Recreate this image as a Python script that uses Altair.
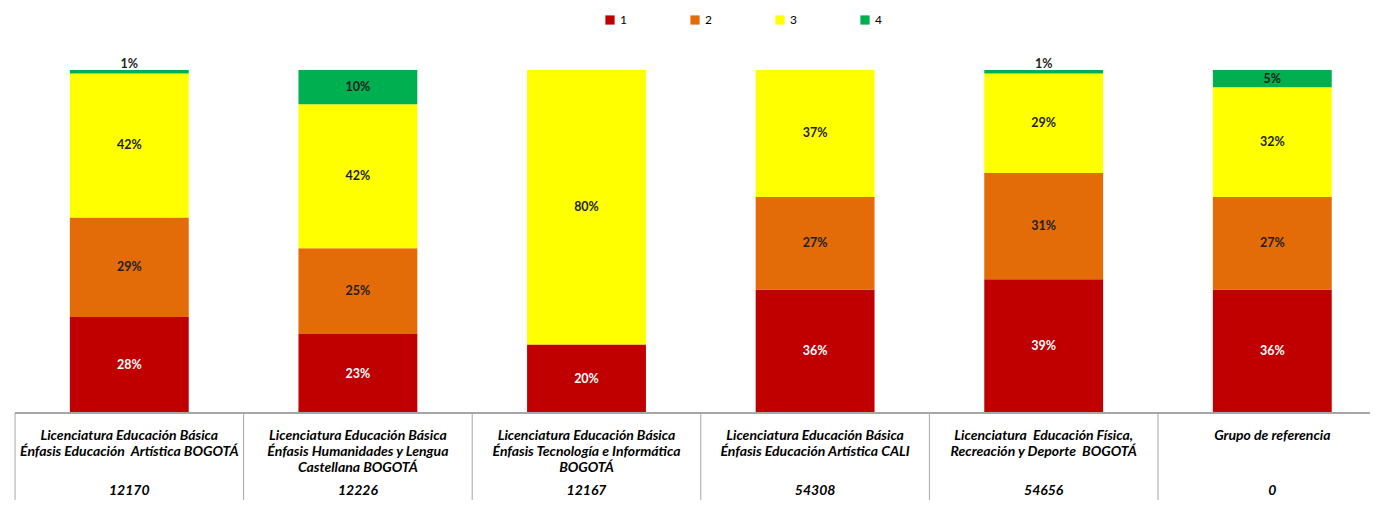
import altair as alt
import pandas as pd

codigos = ["12170", "12226", "12167", "54308", "54656", "0"]
nombres = [
    "Licenciatura Educación Básica\nÉnfasis Educación\u00a0 Artística BOGOTÁ",
    "Licenciatura Educación Básica\nÉnfasis Humanidades y Lengua\nCastellana BOGOTÁ",
    "Licenciatura Educación Básica\nÉnfasis Tecnología e Informática\nBOGOTÁ",
    "Licenciatura Educación Básica\nÉnfasis Educación Artística CALI",
    "Licenciatura\u00a0 Educación Física,\nRecreación y Deporte\u00a0 BOGOTÁ",
    "Grupo de referencia",
]
niveles = ["1", "2", "3", "4"]
nivel1 = [28, 23, 20, 36, 39, 36]
nivel2 = [29, 25, 0, 27, 31, 27]
nivel3 = [42, 42, 80, 37, 29, 32]
nivel4 = [1, 10, 0, 0, 1, 5]
colores = ["#C00000", "#E36C09", "#FFFF00", "#00B050"]

rows = []
for serie, nv in zip([nivel1, nivel2, nivel3, nivel4], niveles):
    for c, v in zip(codigos, serie):
        rows.append({"codigo": c, "nivel": nv, "orden": int(nv), "pct": v})
df = pd.DataFrame(rows)

trows = []
for c, n in zip(codigos, nombres):
    trows.append({"codigo": c, "fila": "nombre", "texto": n})
    trows.append({"codigo": c, "fila": "n", "texto": c})
tabla = pd.DataFrame(trows)

# layout (pixels)
W = 1355          # visible plot width
COLW = 228.6      # width of one table column
BAR_H = 343       # height of the 100% bars
TOT_H = 430       # bars + visible part of table
FONT = "Lato"
GRID = "#A6A6A6"
DARK = "#1F1F1F"

xscale = alt.Scale(type="band", domain=codigos, range=[0, COLW * len(codigos)],
                   paddingInner=0, paddingOuter=0)
yscale = alt.Scale(domain=[0, 100], range=[BAR_H, 0], nice=False)

base = alt.Chart(df)
bars = base.mark_bar(width=alt.RelativeBandSize(0.52)).encode(
    x=alt.X("codigo:N", scale=xscale, axis=None, sort=codigos),
    y=alt.Y("pct:Q", stack="zero", scale=yscale, axis=None),
    color=alt.Color(
        "nivel:N",
        scale=alt.Scale(domain=niveles, range=colores),
        legend=alt.Legend(
            orient="none", legendX=589, legendY=-56, direction="horizontal",
            title=None, symbolType="square", symbolSize=85, symbolStrokeWidth=0,
            labelFontSize=12, labelFont=FONT, labelColor="#000000",
            columnPadding=62, labelOffset=4,
        ),
    ),
    order=alt.Order("orden:Q"),
)

stacked = base.transform_stack(
    stack="pct", groupby=["codigo"], as_=["y0", "y1"], sort=[alt.SortField("orden")]
).transform_calculate(mid="(datum.y0 + datum.y1) / 2", lbl="datum.pct + '%'")

labels = stacked.transform_filter("datum.pct >= 3").mark_text(
    font=FONT, fontWeight="bold", fontSize=12.5, baseline="middle"
).encode(
    x=alt.X("codigo:N", scale=xscale, axis=None, bandPosition=0.5),
    y=alt.Y("mid:Q", scale=yscale, axis=None),
    text="lbl:N",
    color=alt.condition("datum.nivel == '1'", alt.value("#FFFFFF"), alt.value(DARK)),
)

small = stacked.transform_filter("datum.pct > 0 && datum.pct < 3").mark_text(
    font=FONT, fontWeight="bold", fontSize=12.5, baseline="bottom", dy=1, color=DARK
).encode(
    x=alt.X("codigo:N", scale=xscale, axis=None, bandPosition=0.5),
    y=alt.Y("y1:Q", scale=yscale, axis=None),
    text="lbl:N",
)

hline = base.mark_rule(color=GRID, strokeWidth=1).encode(y=alt.datum(0))

top = alt.layer(bars, labels, small, hline)

tb = alt.Chart(tabla)
vlines = tb.transform_filter("datum.fila == 'n'").mark_rule(color=GRID, strokeWidth=1).encode(
    x=alt.X("codigo:N", scale=xscale, axis=None, bandPosition=0),
    y=alt.value(BAR_H),
    y2=alt.value(TOT_H),
)
ttext = tb.mark_text(
    font=FONT, fontStyle="italic", fontWeight="bold", fontSize=14,
    lineBreak="\n", lineHeight=16, baseline="top", color="#000000"
).encode(
    x=alt.X("codigo:N", scale=xscale, axis=None, bandPosition=0.5),
    y=alt.Y("fila:N", scale=alt.Scale(type="point", domain=["nombre", "n"],
                                      range=[BAR_H + 16, BAR_H + 71], padding=0), axis=None),
    text="texto:N",
)
table = alt.layer(vlines, ttext)

chart = alt.layer(top, table).resolve_scale(y="independent").properties(
    width=W, height=TOT_H,
    autosize=alt.AutoSizeParams(type="none"),
    padding={"left": 7, "top": 62, "right": 0, "bottom": 0},
).configure(background="white", view=alt.ViewConfig(stroke=None))

chart.save("out.html", embed_options={"renderer": "svg", "actions": False})
